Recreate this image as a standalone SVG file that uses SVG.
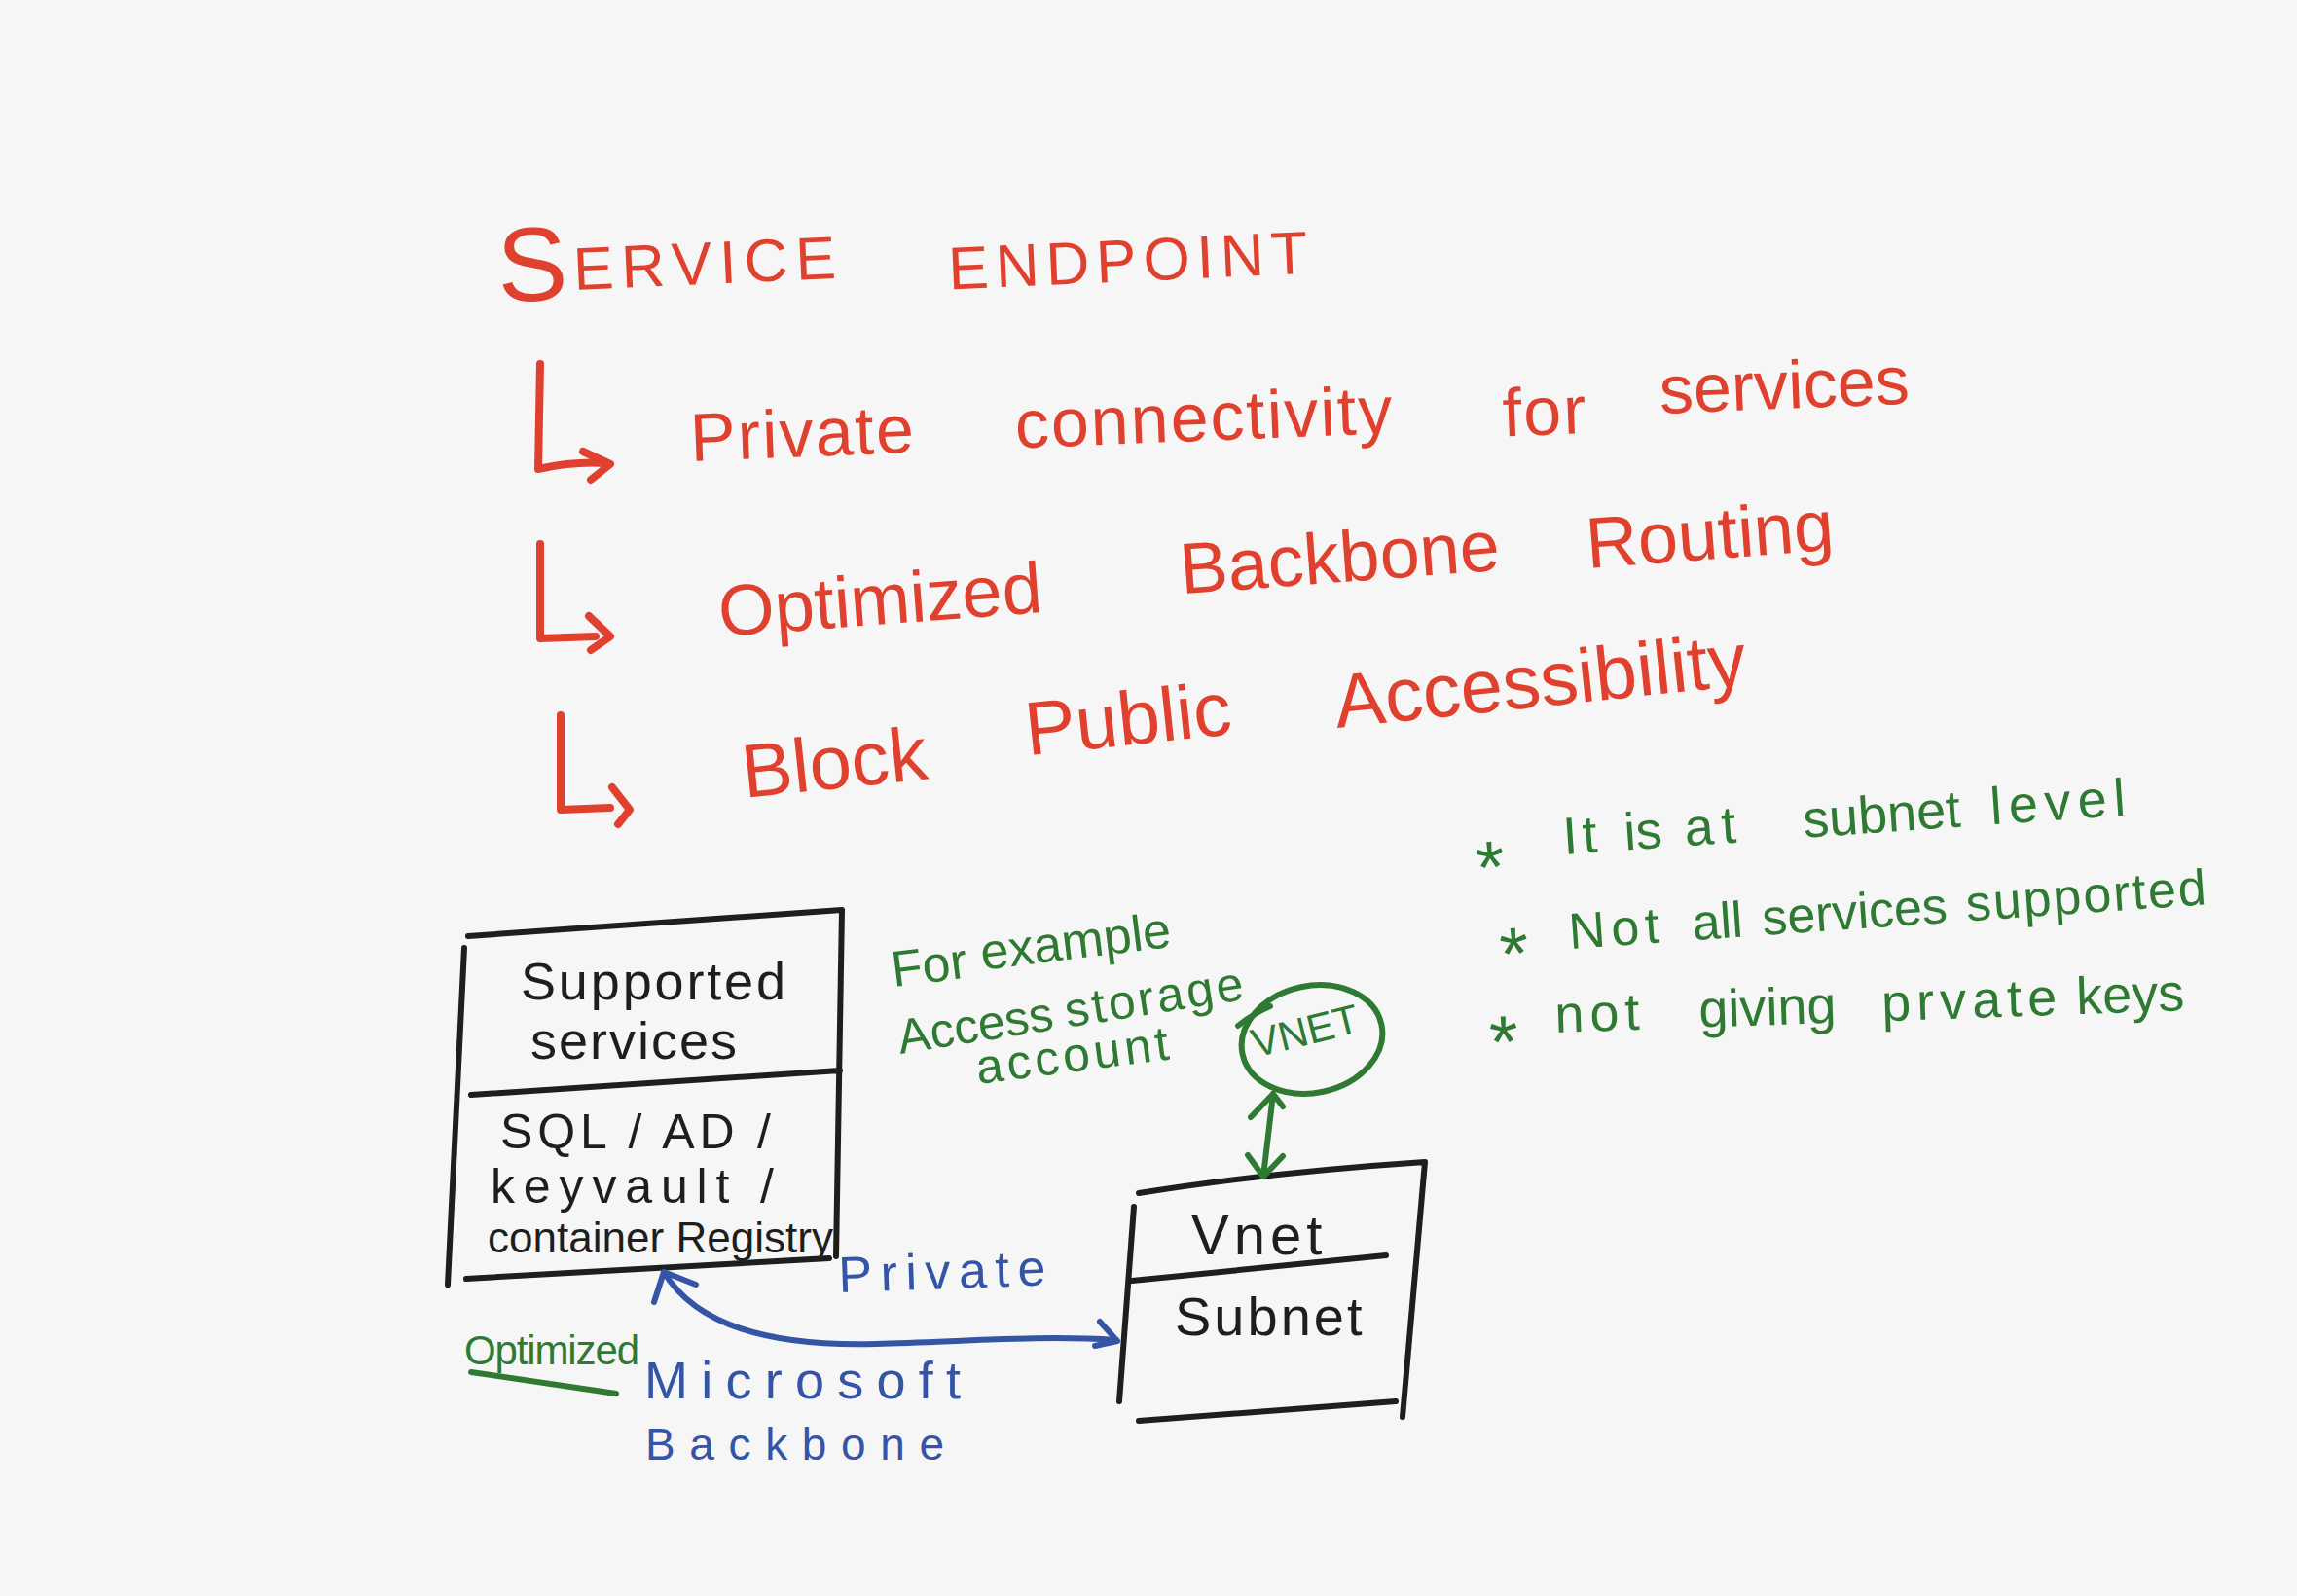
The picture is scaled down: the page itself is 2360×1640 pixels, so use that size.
<svg xmlns="http://www.w3.org/2000/svg" width="2360" height="1640" viewBox="0 0 2360 1640">
<style>
text{font-family:"Liberation Sans",Arial,sans-serif}
.r{fill:#e0402e}
.g{fill:#2e7a32}
.b{fill:#3454a6}
.k{fill:#1e1e1e}
.s{fill:none;stroke-linecap:round;stroke-linejoin:round}
.sk{stroke:#1e1e1e;stroke-width:6}
.sr{stroke:#e0402e;stroke-width:8}
.sg{stroke:#2e7a32;stroke-width:6}
.sb{stroke:#3454a6;stroke-width:6}
</style>
<rect width="2360" height="1640" fill="#f6f6f6"/>

<g id="title">
<text class="r" font-size="62" transform="rotate(-2.6 590 298)"><tspan x="512" y="307" font-size="108">S</tspan><tspan x="590" y="298" letter-spacing="8">ERVICE</tspan> <tspan x="975" y="315" letter-spacing="7">ENDPOINT</tspan></text>
</g>

<g id="point-private">
<path class="s sr" d="M555 374 L553 482 Q590 474 622 476"/>
<path class="s sr" d="M599 464 L627 477 L607 493"/>
<text class="r" font-size="70" letter-spacing="2" transform="rotate(-2.3 710 474)"><tspan x="710" y="474">Private</tspan> <tspan x="1044" y="474">connectivity</tspan> <tspan x="1545" y="482">for</tspan> <tspan x="1707" y="465" letter-spacing="0">services</tspan></text>
</g>

<g id="point-optimized">
<path class="s sr" d="M555 559 L555 656 L612 654"/>
<path class="s sr" d="M605 633 L627 654 L607 668"/>
<text class="r" font-size="74" transform="rotate(-4.3 740 654)"><tspan x="740" y="654">Optimized</tspan> <tspan x="1216" y="646">Backbone</tspan> <tspan x="1634" y="651">Routing</tspan></text>
</g>

<g id="point-block">
<path class="s sr" d="M576 735 L576 832 L627 830"/>
<path class="s sr" d="M629 809 L647 832 L635 847"/>
<text class="r" font-size="78" transform="rotate(-6 765 820)"><tspan x="765" y="820">Block</tspan> <tspan x="1059" y="807">Public</tspan> <tspan x="1378" y="812">Accessibility</tspan></text>
</g>

<g id="notes">
<text class="g" font-size="54" transform="rotate(-4 1607 878)"><tspan x="1516" y="912" font-size="76">*</tspan> <tspan x="1607" y="878" letter-spacing="5">It</tspan> <tspan x="1670" y="878">is</tspan> <tspan x="1732" y="878" letter-spacing="8">at</tspan> <tspan x="1854" y="878">subnet</tspan> <tspan x="2047" y="878" letter-spacing="7">level</tspan></text>
<text class="g" font-size="52" transform="rotate(-4 1613 975)"><tspan x="1541" y="1002" font-size="76">*</tspan> <tspan x="1613" y="975" letter-spacing="6">Not</tspan> <tspan x="1740" y="975">all</tspan> <tspan x="1812" y="975">services</tspan> <tspan x="2022" y="975" letter-spacing="2">supported</tspan></text>
<text class="g" font-size="54" transform="rotate(-2 1598 1061)"><tspan x="1530" y="1095" font-size="76">*</tspan> <tspan x="1598" y="1061" letter-spacing="6">not</tspan> <tspan x="1746" y="1061">giving</tspan> <tspan x="1934" y="1061" letter-spacing="6">prvate</tspan> <tspan x="2134" y="1061">keys</tspan></text>
</g>

<g id="example-note">
<text class="g" font-size="52" transform="rotate(-7 918 1014)"><tspan x="918" y="1014">For</tspan> <tspan x="1011" y="1008">example</tspan></text>
<text class="g" font-size="50" transform="rotate(-9 925 1083)"><tspan x="925" y="1083">Access</tspan> <tspan x="1099" y="1083" letter-spacing="3">storage</tspan></text>
<text class="g" font-size="50" letter-spacing="4" transform="rotate(-7.4 1005 1114)" x="1005" y="1114">account</text>
</g>

<g id="vnet-ellipse">
<ellipse class="s sg" cx="1348" cy="1068" rx="73" ry="55" transform="rotate(-12 1348 1068)"/>
<path class="s sg" d="M1272 1054 Q1290 1040 1305 1034"/>
<text class="g" font-size="42" transform="rotate(-14 1290 1087)" x="1290" y="1087">VNET</text>
</g>

<g id="supported-services">
<path class="s sk" d="M481 962 L865 935 M865 935 L859 1291 M477 974 L460 1320 M484 1125 L863 1100 M479 1314 L852 1293"/>
<text class="k" font-size="54" x="535" y="1027" textLength="272" lengthAdjust="spacing">Supported</text>
<text class="k" font-size="54" x="545" y="1088" textLength="212" lengthAdjust="spacing">services</text>
<text class="k" font-size="50" x="514" y="1180" textLength="278" lengthAdjust="spacing">SQL / AD /</text>
<text class="k" font-size="50" x="504" y="1236" textLength="291" lengthAdjust="spacing">keyvault /</text>
<text class="k" font-size="44" x="501" y="1287" textLength="355" lengthAdjust="spacingAndGlyphs">container Registry</text>
</g>

<g id="vnet-box">
<path class="s sk" d="M1170 1226 Q1300 1205 1464 1194 M1165 1240 L1150 1440 M1464 1194 L1441 1456 M1163 1316 L1424 1290 M1170 1460 L1434 1440"/>
<text class="k" font-size="58" letter-spacing="5" x="1224" y="1289">Vnet</text>
<text class="k" font-size="56" letter-spacing="3" x="1207" y="1372">Subnet</text>
</g>

<g id="connectors">
<path class="s sb" d="M682 1307 C715 1362 790 1384 900 1381 C1000 1378 1070 1372 1147 1377"/>
<path class="s sb" d="M672 1338 L682 1307 L715 1320"/>
<path class="s sb" d="M1130 1358 L1148 1378 L1125 1383"/>
<path class="s sg" d="M1308 1124 L1298 1209"/>
<path class="s sg" d="M1285 1148 L1308 1124 L1318 1137"/>
<path class="s sg" d="M1282 1187 L1298 1209 L1318 1188"/>
</g>

<g id="link-labels">
<text class="b" font-size="52" transform="rotate(-2 862 1328)" x="862" y="1328" textLength="213" lengthAdjust="spacing">Private</text>
<text class="g" font-size="42" x="477" y="1402" textLength="180" lengthAdjust="spacing">Optimized</text>
<path class="s sg" d="M484 1410 L633 1432"/>
<text class="b" font-size="54" x="662" y="1437" textLength="325" lengthAdjust="spacing">Microsoft</text>
<text class="b" font-size="46" x="663" y="1500" textLength="307" lengthAdjust="spacing">Backbone</text>
</g>
</svg>
